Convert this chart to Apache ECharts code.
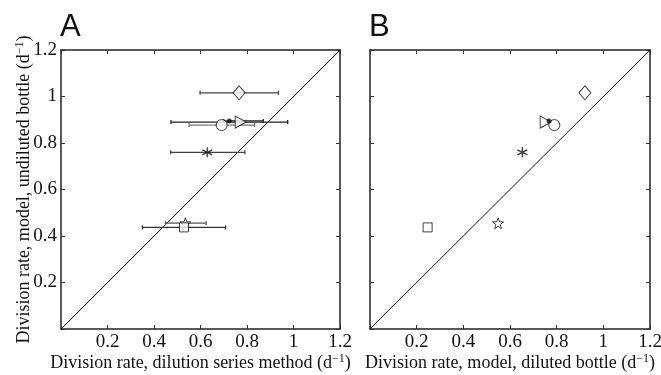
<!DOCTYPE html>
<html>
<head>
<meta charset="utf-8">
<script src="https://cdn.jsdelivr.net/npm/echarts@6/dist/echarts.min.js"></script>
<style>
  html, body { margin: 0; padding: 0; background: #fff; }
  #chart { width: 661px; height: 375px; }
</style>
</head>
<body>
<div id="chart"></div>
<script>
// one entry per sample, same order in every array
var markers = ['diamond', 'circle', 'triangle', 'dot', 'asterisk', 'star', 'square'];
var modelUndiluted = [1.016, 0.877, 0.890, 0.895, 0.760, 0.455, 0.437];   // y, both panels
var dilutionSeries = [0.766, 0.691, 0.773, 0.724, 0.629, 0.535, 0.529];   // x, panel A
var dilutionLow    = [0.598, 0.551, 0.473, 0.700, 0.472, 0.450, 0.350];
var dilutionHigh   = [0.935, 0.833, 0.975, 0.870, 0.791, 0.624, 0.708];
var modelDiluted   = [0.921, 0.790, 0.753, 0.767, 0.653, 0.549, 0.247];   // x, panel B

var serif = '"Liberation Serif", "DejaVu Serif", serif';

var symbols = {
  diamond:  { symbol: 'diamond', size: [12, 14], rotate: 0 },
  circle:   { symbol: 'circle', size: 11, rotate: 0 },
  triangle: { symbol: 'triangle', size: [12, 11], rotate: -90 },
  dot:      { symbol: 'circle', size: 4, rotate: 0, filled: true },
  asterisk: { symbol: 'path://M0,-10L0,10M-8.66,-5L8.66,5M-8.66,5L8.66,-5', size: 10, rotate: 0 },
  star:     { symbol: 'path://M0,-10L2.35,-3.24L9.51,-3.09L3.8,1.24L5.88,8.09L0,4L-5.88,8.09L-3.8,1.24L-9.51,-3.09L-2.35,-3.24Z', size: 11, rotate: 0 },
  square:   { symbol: 'rect', size: 9, rotate: 0 }
};

var barColors = ['#444', '#777', '#222', '#222', '#444', '#555', '#333'];

function axisName(text) {
  return '{a|' + text + ' (d}{s|−1}{a|)}';
}
var nameRich = {
  a: { fontFamily: serif, fontSize: 18, color: '#111' },
  s: { fontFamily: serif, fontSize: 12, color: '#111', verticalAlign: 'top', padding: [0, 0, 8, 0] }
};

function tickFmt(v) { return v === 0 ? '' : String(+v.toFixed(1)); }

function xAxisDef(grid, label) {
  return [{
    gridIndex: grid, type: 'value', min: 0, max: 1.2, interval: 0.2, position: 'bottom',
    axisLine: { onZero: false, lineStyle: { color: '#222', width: 1.5 } },
    axisTick: { inside: true, length: 4, lineStyle: { color: '#333' } },
    splitLine: { show: false },
    axisLabel: { fontFamily: serif, fontSize: 19, color: '#111', margin: 4, formatter: tickFmt },
    name: axisName(label), nameLocation: 'middle', nameGap: 24, nameMoveOverlap: false,
    nameTextStyle: { rich: nameRich }
  }, {
    gridIndex: grid, type: 'value', min: 0, max: 1.2, interval: 0.2, position: 'top',
    axisLine: { onZero: false, lineStyle: { color: '#222', width: 1.5 } },
    axisTick: { inside: true, length: 4, lineStyle: { color: '#333' } },
    splitLine: { show: false }, axisLabel: { show: false }
  }];
}

function yAxisDef(grid, label, showLabels) {
  return [{
    gridIndex: grid, type: 'value', min: 0, max: 1.2, interval: 0.2, position: 'left',
    axisLine: { onZero: false, lineStyle: { color: '#222', width: 1.5 } },
    axisTick: { inside: true, length: 4, lineStyle: { color: '#333' } },
    splitLine: { show: false },
    axisLabel: { show: showLabels, fontFamily: serif, fontSize: 19, color: '#111', margin: 4, formatter: tickFmt },
    name: label ? axisName(label) : '', nameLocation: 'middle', nameGap: 27, nameRotate: 90,
    nameMoveOverlap: false,
    nameTextStyle: { rich: nameRich }
  }, {
    gridIndex: grid, type: 'value', min: 0, max: 1.2, interval: 0.2, position: 'right',
    axisLine: { onZero: false, lineStyle: { color: '#222', width: 1.5 } },
    axisTick: { inside: true, length: 4, lineStyle: { color: '#333' } },
    splitLine: { show: false }, axisLabel: { show: false }
  }];
}

var series = [];

// 1:1 lines
[0, 1].forEach(function (g) {
  series.push({
    type: 'line', xAxisIndex: g * 2, yAxisIndex: g * 2, data: [[0, 0], [1.2, 1.2]],
    symbol: 'none', lineStyle: { color: '#111', width: 1 }, silent: true, z: 1
  });
});

// horizontal error bars, panel A
series.push({
  type: 'custom', xAxisIndex: 0, yAxisIndex: 0, z: 2,
  data: dilutionLow.map(function (lo, i) { return [lo, dilutionHigh[i], modelUndiluted[i], i]; }),
  renderItem: function (params, api) {
    var y = api.value(2);
    var p1 = api.coord([api.value(0), y]);
    var p2 = api.coord([api.value(1), y]);
    var c = barColors[api.value(3)];
    var st = { stroke: c, lineWidth: 1.3 };
    return {
      type: 'group', children: [
        { type: 'line', shape: { x1: p1[0], y1: p1[1], x2: p2[0], y2: p2[1] }, style: st },
        { type: 'line', shape: { x1: p1[0], y1: p1[1] - 2, x2: p1[0], y2: p1[1] + 2 }, style: st },
        { type: 'line', shape: { x1: p2[0], y1: p2[1] - 2, x2: p2[0], y2: p2[1] + 2 }, style: st }
      ]
    };
  }
});

// markers
markers.forEach(function (m, i) {
  var s = symbols[m];
  [[0, dilutionSeries[i]], [1, modelDiluted[i]]].forEach(function (pair) {
    var g = pair[0];
    series.push({
      type: 'scatter', xAxisIndex: g * 2, yAxisIndex: g * 2, z: 3,
      data: [[pair[1], modelUndiluted[i]]],
      symbol: s.symbol, symbolSize: s.size, symbolRotate: s.rotate,
      itemStyle: {
        color: s.filled ? '#111' : (m === 'asterisk' ? 'none' : '#fff'),
        borderColor: '#111', borderWidth: m === 'asterisk' ? 1.4 : 1
      },
      emphasis: { disabled: true }
    });
  });
});

var chart = echarts.init(document.getElementById('chart'));
chart.setOption({
  animation: false,
  backgroundColor: '#fff',
  title: [
    { text: 'A', left: 55, top: 7, textStyle: { fontFamily: 'Liberation Sans, Arial, sans-serif', fontSize: 31, fontWeight: 'normal', color: '#111' } },
    { text: 'B', left: 364, top: 7, textStyle: { fontFamily: 'Liberation Sans, Arial, sans-serif', fontSize: 31, fontWeight: 'normal', color: '#111' } }
  ],
  grid: [
    { left: 61, top: 50, width: 279, height: 279, outerBoundsMode: 'none', containLabel: false },
    { left: 370, top: 50, width: 280, height: 279, outerBoundsMode: 'none', containLabel: false }
  ],
  xAxis: xAxisDef(0, 'Division rate, dilution series method').concat(xAxisDef(1, 'Division rate, model, diluted bottle')),
  yAxis: yAxisDef(0, 'Division rate, model, undiluted bottle', true).concat(yAxisDef(1, '', false)),
  series: series
});
</script>
</body>
</html>
